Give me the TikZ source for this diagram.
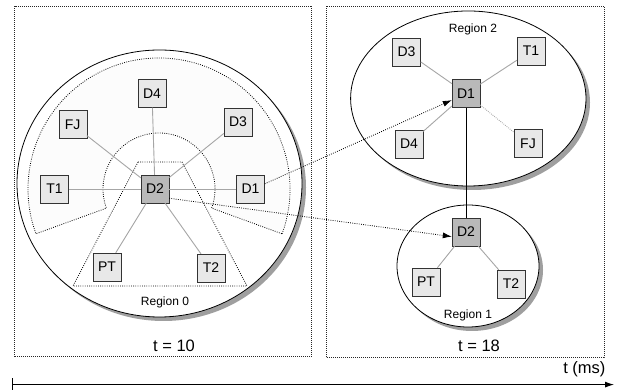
\documentclass[tikz,border=0pt]{standalone}
\usepackage{fontspec}
\setmainfont{Liberation Sans}
\usetikzlibrary{arrows.meta}

\begin{document}
\begin{tikzpicture}[x=1pt,y=1pt]
		% Styles
		\tikzstyle{cadre}=[draw=black!85,dash pattern=on 0.8pt off 1.2pt,line width=0.7pt]
		\tikzstyle{noeud}=[draw=black!80,fill=gray!18,minimum size=28pt,inner sep=0pt,font=\fontsize{14}{15}\selectfont]
		\tikzstyle{chef}=[noeud,fill=gray!55]
		\tikzstyle{lien}=[draw=gray!70,line width=0.9pt]
		\tikzstyle{lienpoint}=[lien,dash pattern=on 0.8pt off 1.2pt]
		\tikzstyle{region}=[draw=black,fill=white,line width=0.8pt]
		\tikzstyle{ombre}=[fill=gray!75]
		\tikzstyle{zone}=[draw=black,dash pattern=on 0.8pt off 1.4pt,line width=0.8pt]
		\tikzstyle{migration}=[-{Latex[length=9pt,width=6pt]},draw=black,dash pattern=on 0.8pt off 1.4pt,line width=0.8pt]
		\tikzstyle{etiquette}=[font=\fontsize{12}{13}\selectfont]
		\tikzstyle{temps}=[font=\fontsize{16.5}{18}\selectfont]
		
		\useasboundingbox (0,0) rectangle (618,390);
		
		% Cadres
		\draw[cadre] (14.7,33.3) rectangle (311.7,384);
		\draw[cadre] (326,33) rectangle (604,384);
		
		% Regions (ombre puis contour)
		\fill[ombre] (163.5,202.5) ellipse (142.5 and 133.5);
		\draw[region] (159.5,206.5) ellipse (142.5 and 133.5);
		\fill[ombre] (472.3,287.5) ellipse (117.7 and 87.5);
		\draw[region] (468.3,291.5) ellipse (117.7 and 87.5);
		\fill[ombre] (472,120) ellipse (71 and 61);
		\draw[region] (468,124) ellipse (71 and 61);
		
		% Zones de la region 0
		\coordinate (c0) at (159,201);
		\draw[zone,fill=gray!2.5] (c0) ++(-20:131) arc (-20:200:131) -- ++(20:75) arc (200:-20:56) -- cycle;
		\draw[zone] (138,228) -- (182,228) -- (247,104) -- (73,104) -- cycle;
		
		% Noeuds t = 10
		\node[chef] (D2g) at (155,201) {D2};
		\node[noeud] (D4g) at (152,296.5) {D4};
		\node[noeud] (FJg) at (72.7,265.5) {FJ};
		\node[noeud] (D3g) at (238,268) {D3};
		\node[noeud] (T1g) at (54.5,201) {T1};
		\node[noeud] (D1g) at (250.5,201) {D1};
		\node[noeud] (PTg) at (107,123) {PT};
		\node[noeud] (T2g) at (211,122) {T2};
		
		% Noeuds t = 18
		\node[chef] (D1d) at (466,296.5) {D1};
		\node[noeud] (D3d) at (406.5,338) {D3};
		\node[noeud] (T1d) at (531,339) {T1};
		\node[noeud] (D4d) at (409,246) {D4};
		\node[noeud] (FJd) at (528,246.3) {FJ};
		\node[chef] (D2d) at (466,158) {D2};
		\node[noeud] (PTd) at (426,108) {PT};
		\node[noeud] (T2d) at (511,106) {T2};
		
		% Liens
		\foreach \n in {D4g,FJg,D3g,T1g,D1g,PTg,T2g}
			\draw[lien] (D2g) -- (\n);
		\foreach \n in {D3d,T1d,D4d}
			\draw[lien] (D1d) -- (\n);
		\draw[lienpoint] (D1d) -- (FJd);
		\draw[lien] (D2d) -- (PTd);
		\draw[lien] (D2d) -- (T2d);
		\draw[line width=0.8pt] (D1d) -- (D2d);
		
		% Migrations
		\draw[migration] (D1g.20) -- (D1d.205);
		\draw[migration] (D2g.-33) -- (D2d.198);
		
		% Etiquettes
		\node[etiquette] (R0) at (165,88) {Region 0};
		\node[etiquette] (R1) at (468,75) {Region 1};
		\node[etiquette] (R2) at (473,361) {Region 2};
		\node[temps] (t10) at (174,44) {t = 10};
		\node[temps] (t18) at (479,44) {t = 18};
		
		% Axe du temps
		\coordinate (t0) at (12,5.4);
		\coordinate (t1) at (614,5.4);
		\draw[{Bar[width=13pt]}-{Latex[length=9pt,width=6pt]},line width=0.9pt] (t0) -- (t1);
		\node[temps,anchor=south east] (tms) at (609,10) {t (ms)};
	\end{tikzpicture}
\end{document}
